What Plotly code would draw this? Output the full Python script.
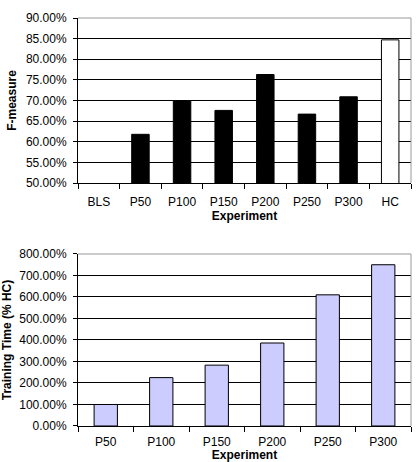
import plotly.graph_objects as go

categories_f = ["BLS", "P50", "P100", "P150", "P200", "P250", "P300", "HC"]
fmeasure = [None, 0.618, 0.700, 0.676, 0.763, 0.667, 0.709, 0.847]
fcolors = ["black", "black", "black", "black", "black", "black", "black", "white"]

categories_t = ["P50", "P100", "P150", "P200", "P250", "P300"]
train_time = [1.00, 2.25, 2.83, 3.86, 6.10, 7.50]

FONT = "Liberation Sans, Arial, sans-serif"

fig = go.Figure()
fig.add_trace(go.Bar(x=categories_f, y=fmeasure, marker=dict(color=fcolors, line=dict(color="black", width=1)),
                     width=0.42, xaxis="x", yaxis="y", showlegend=False))
fig.add_trace(go.Bar(x=categories_t, y=train_time, marker=dict(color="#CCCCFF", line=dict(color="black", width=1)),
                     width=0.42, xaxis="x2", yaxis="y2", showlegend=False))

top_dom = [0.5956, 1.0]
bot_dom = [0.0, 0.4216]

common_x = dict(type="category", showgrid=False, showline=True, linecolor="black", linewidth=1,
                ticks="outside", tickson="boundaries", ticklen=5, tickcolor="black",
                tickfont=dict(family=FONT, size=12, color="black"), zeroline=False, automargin=False)
common_y = dict(showgrid=True, gridcolor="black", gridwidth=1, showline=True, linecolor="black", linewidth=1,
                ticks="outside", ticklen=4, tickcolor="black", tickformat=".2%", ticklabelstandoff=4,
                tickfont=dict(family=FONT, size=12, color="black"), zeroline=False, automargin=False)

fig.update_layout(
    width=418, height=462,
    margin=dict(l=78, r=7, t=18, b=36),
    paper_bgcolor="white", plot_bgcolor="white",
    bargap=0.5,
    xaxis=dict(common_x, anchor="y", domain=[0, 1], ticklabelstandoff=8,
               title=dict(text="<b>Experiment</b>", font=dict(family=FONT, size=12, color="black"), standoff=0)),
    yaxis=dict(common_y, anchor="x", domain=top_dom, range=[0.5, 0.9], dtick=0.05,
               title=dict(text="<b>F-measure</b>", font=dict(family=FONT, size=12, color="black"), standoff=6)),
    xaxis2=dict(common_x, anchor="y2", domain=[0, 1], ticklabelstandoff=5,
                title=dict(text="<b>Experiment</b>", font=dict(family=FONT, size=12, color="black"), standoff=0)),
    yaxis2=dict(common_y, anchor="x2", domain=bot_dom, range=[0, 8], dtick=1,
                title=dict(text="<b>Training Time (% HC)</b>", font=dict(family=FONT, size=12, color="black"), standoff=6)),
    shapes=[
        dict(type="line", xref="x domain", yref="y domain", x0=0, x1=1, y0=1, y1=1, line=dict(color="#999999", width=1)),
        dict(type="line", xref="x domain", yref="y domain", x0=1, x1=1, y0=0, y1=1, line=dict(color="#999999", width=1)),
        dict(type="line", xref="x2 domain", yref="y2 domain", x0=0, x1=1, y0=1, y1=1, line=dict(color="#999999", width=1)),
        dict(type="line", xref="x2 domain", yref="y2 domain", x0=1, x1=1, y0=0, y1=1, line=dict(color="#999999", width=1)),
    ],
)

fig.write_html("out.html")
